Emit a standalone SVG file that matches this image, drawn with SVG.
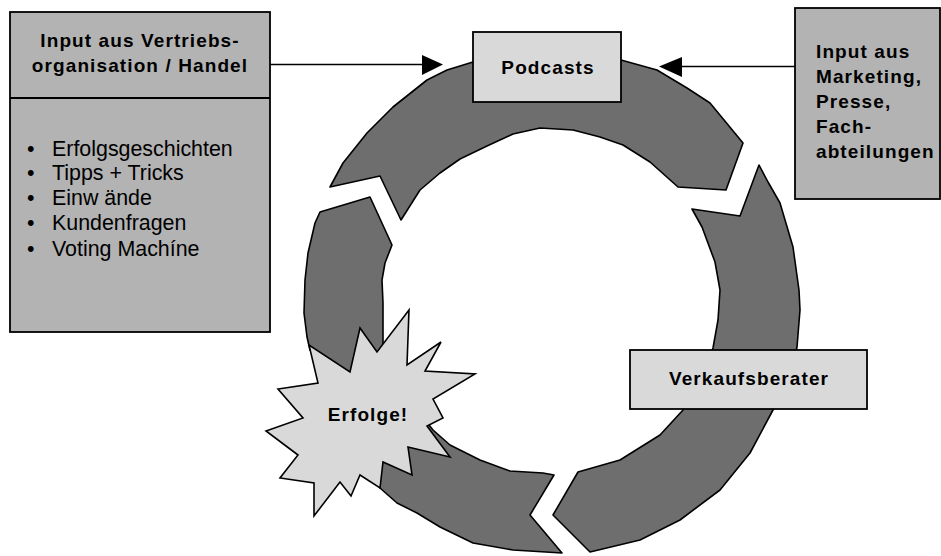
<svg xmlns="http://www.w3.org/2000/svg" width="941" height="556" viewBox="0 0 941 556">
<defs>
<style>
.ring{fill:#6e6e6e;stroke:#000;stroke-width:1.6;stroke-linejoin:round}
.box{fill:#b3b3b3;stroke:#000;stroke-width:1.8}
.lbox{fill:#d9d9d9;stroke:#000;stroke-width:1.8}
.b{font-family:"Liberation Sans",Arial,sans-serif;font-weight:bold;font-size:19px;letter-spacing:1.1px;fill:#000}
.r{font-family:"Liberation Sans",Arial,sans-serif;font-size:21.4px;fill:#000}
.conn{stroke:#000;stroke-width:1.6;fill:none}
</style>
</defs>
<rect width="941" height="556" fill="#fff"/>
<g id="ring">
<path class="ring" d="M330,187 L343,163 L367,133 L393,107 L427,80 L447,70 L473,62 L548,55 L621,60 L657,70 L687,88 L710,103 L743,143 L726,190 L678,187 L650,162 L623,145 L600,137 L573,130 L540,128 L513,134 L487,146 L460,159 L440,173 L420,190 L401,220 L380,176 Z"/>
<path class="ring" d="M759,165 L768,182 L780,203 L793,247 L799,290 L800,310 L797,347 L790,380 L773,410 L750,453 L720,490 L680,520 L640,540 L590,552 L553,515 L578,472 L620,460 L660,435 L683,410 L700,380 L713,348 L718,320 L720,290 L715,262 L702,227 L692,209 L740,216 Z"/>
<path class="ring" d="M562,553 L513,550 L473,543 L440,527 L417,513 L397,503 L380,488 L362,468 L348,448 L372,412 L412,403 L422,416 L433,430 L450,445 L480,460 L510,471 L543,473 L554,475 L530,515 Z"/>
<path class="ring" d="M370,197 L320,212 L315,223 L308,253 L305,280 L304,313 L307,337 L310,350 L345,385 L395,380 L388,360 L383,343 L383,303 L382,280 L385,263 L392,245 Z"/>
</g>
<g id="connectors">
<line class="conn" x1="270" y1="64.5" x2="424" y2="64.5"/>
<polygon points="422,55 443,64.5 422,75" fill="#000"/>
<line class="conn" x1="795" y1="66.5" x2="680" y2="66.5"/>
<polygon points="682,57 659,66.5 682,77" fill="#000"/>
</g>
<g id="input-vertrieb">
<rect class="box" x="10" y="12" width="260" height="320"/>
<line x1="10" y1="98" x2="270" y2="98" stroke="#000" stroke-width="1.8"/>
<text class="b" x="140" y="47" text-anchor="middle">Input aus Vertriebs-</text>
<text class="b" x="140" y="72" text-anchor="middle">organisation / Handel</text>
<g class="r">
<text x="27" y="156">•</text><text x="52" y="156">Erfolgsgeschichten</text>
<text x="27" y="180">•</text><text x="52" y="180">Tipps + Tricks</text>
<text x="27" y="205">•</text><text x="52" y="205">Einw ände</text>
<text x="27" y="230">•</text><text x="52" y="230">Kundenfragen</text>
<text x="27" y="256">•</text><text x="52" y="256">Voting Machíne</text>
</g>
</g>
<g id="input-marketing">
<rect class="box" x="795" y="8" width="145" height="191"/>
<text class="b" x="816" y="58">Input aus</text>
<text class="b" x="816" y="83">Marketing,</text>
<text class="b" x="816" y="108">Presse,</text>
<text class="b" x="816" y="133">Fach-</text>
<text class="b" x="816" y="158">abteilungen</text>
</g>
<g id="podcasts">
<rect class="lbox" x="473" y="32" width="148" height="70"/>
<text class="b" x="548" y="74" text-anchor="middle">Podcasts</text>
</g>
<g id="verkaufsberater">
<rect class="lbox" x="630" y="350" width="237" height="59"/>
<text class="b" x="749" y="385" text-anchor="middle">Verkaufsberater</text>
</g>
<g id="erfolge">
<polygon fill="#d9d9d9" stroke="#000" stroke-width="1.6" stroke-linejoin="miter" points="409,310 407,365 441,342 425,371 475,374 433,399 443,418 427,426 450,457 408,447 412,475 383,462 380,488 360,475 351,496 340,482 314,516 314,483 280,478 298,455 266,431 303,418 278,389 318,383 309,345 350,372 360,328 377,352"/>
<text class="b" x="368" y="421" text-anchor="middle">Erfolge!</text>
</g>
</svg>
